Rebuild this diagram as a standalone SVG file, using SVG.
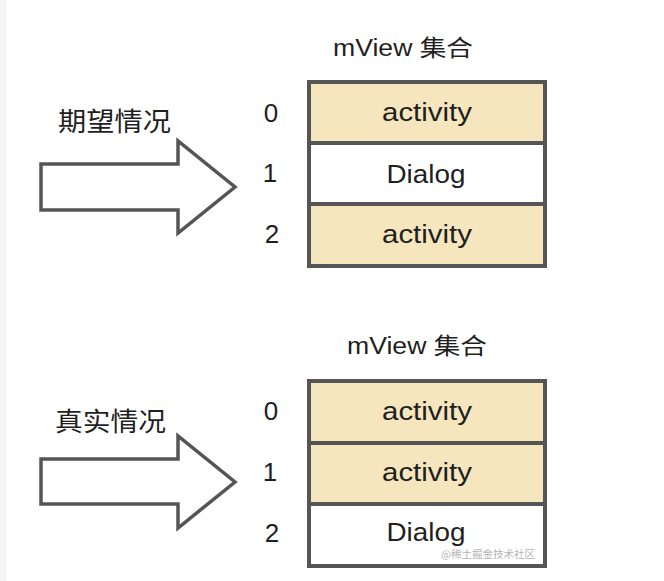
<svg xmlns="http://www.w3.org/2000/svg" width="664" height="581" viewBox="0 0 664 581">
  <style>
    .lbl { font-family: "Liberation Sans", "Noto Sans CJK SC", sans-serif; fill: #1f1f1f; }
    .title { font-size: 23px; }
    .cjk { font-size: 26px; }
    .idx { font-size: 26px; text-anchor: middle; }
    .cell-text { font-size: 26px; text-anchor: middle; }
    .cell { stroke: #555555; stroke-width: 4; }
    .act { fill: #F6E6BE; }
    .dlg { fill: #FFFFFF; }
    .arrow { fill: #FFFFFF; stroke: #555555; stroke-width: 3.5; stroke-linejoin: miter; }
    .wm { font-family: "Noto Sans CJK SC", sans-serif; font-size: 10.5px; fill: #b5b5b5; }
  </style>
  <rect x="0" y="0" width="664" height="581" fill="#FFFFFF"/>
  <rect x="0" y="0" width="6" height="581" fill="#F5F5F5"/>

  <g id="connectors">
    <polygon class="arrow" points="41,164 178,164 178,141 235,187 178,233 178,210 41,210"/>
    <polygon class="arrow" points="41,459 178,459 178,436 235,482 178,528 178,504 41,504"/>
  </g>

  <g id="label-expected">
    <text class="lbl cjk" x="58" y="131" textLength="113" lengthAdjust="spacingAndGlyphs">期望情况</text>
  </g>
  <g id="label-actual">
    <text class="lbl cjk" x="55" y="431" textLength="111" lengthAdjust="spacingAndGlyphs">真实情况</text>
  </g>

  <g id="set-expected">
    <text class="lbl title" x="333" y="56" textLength="140" lengthAdjust="spacingAndGlyphs">mView 集合</text>
    <g id="exp-0">
      <rect class="cell act" x="309" y="82" width="236" height="61"/>
      <text class="lbl idx" x="271" y="122">0</text>
      <text class="lbl cell-text" x="427" y="121" textLength="90" lengthAdjust="spacingAndGlyphs">activity</text>
    </g>
    <g id="exp-1">
      <rect class="cell dlg" x="309" y="143" width="236" height="61"/>
      <text class="lbl idx" x="270" y="182">1</text>
      <text class="lbl cell-text" x="426" y="183" textLength="79" lengthAdjust="spacingAndGlyphs">Dialog</text>
    </g>
    <g id="exp-2">
      <rect class="cell act" x="309" y="204" width="236" height="62"/>
      <text class="lbl idx" x="272" y="243">2</text>
      <text class="lbl cell-text" x="427" y="243" textLength="90" lengthAdjust="spacingAndGlyphs">activity</text>
    </g>
  </g>

  <g id="set-actual">
    <text class="lbl title" x="347" y="354" textLength="140" lengthAdjust="spacingAndGlyphs">mView 集合</text>
    <g id="act-0">
      <rect class="cell act" x="309" y="381" width="236" height="62"/>
      <text class="lbl idx" x="271" y="420">0</text>
      <text class="lbl cell-text" x="427" y="420" textLength="90" lengthAdjust="spacingAndGlyphs">activity</text>
    </g>
    <g id="act-1">
      <rect class="cell act" x="309" y="443" width="236" height="61"/>
      <text class="lbl idx" x="270" y="481">1</text>
      <text class="lbl cell-text" x="427" y="481" textLength="90" lengthAdjust="spacingAndGlyphs">activity</text>
    </g>
    <g id="act-2">
      <rect class="cell dlg" x="309" y="504" width="236" height="62"/>
      <text class="lbl idx" x="272" y="542">2</text>
      <text class="lbl cell-text" x="426" y="541" textLength="79" lengthAdjust="spacingAndGlyphs">Dialog</text>
    </g>
  </g>

  <text class="wm" x="441" y="558">@稀土掘金技术社区</text>
</svg>
